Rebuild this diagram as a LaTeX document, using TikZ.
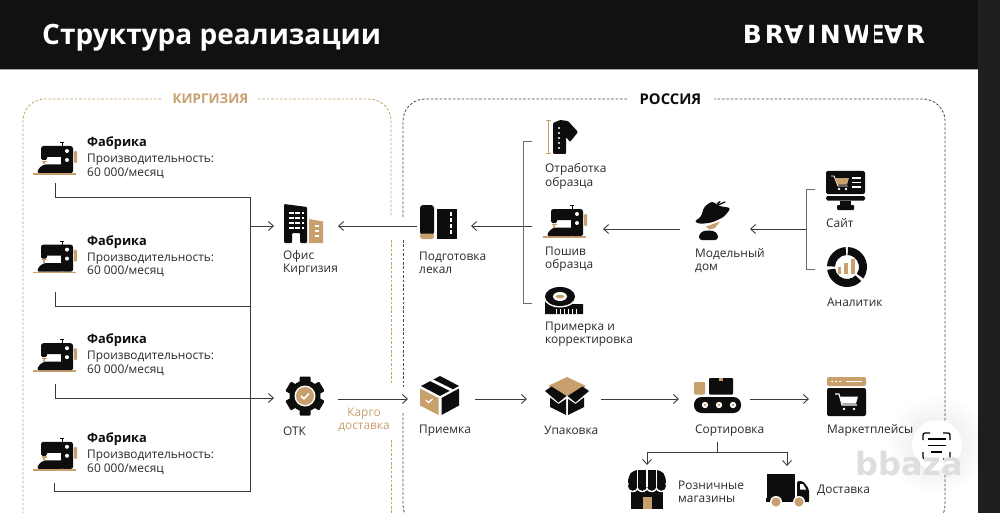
\documentclass[tikz,border=0pt]{standalone}
\usepackage{fontspec}
\usepackage{graphicx}
\setmainfont{Open Sans}
\newfontfamily\wmfont{DejaVu Sans}
\usetikzlibrary{arrows.meta}
\definecolor{tan}{HTML}{C8A06E}
\definecolor{ink}{HTML}{0D0D0D}
\definecolor{hdr}{HTML}{111111}
\definecolor{lineink}{HTML}{3A3A3A}
\definecolor{txt}{HTML}{2A2A2A}
\tikzset{
  lbl/.style={anchor=west,inner sep=0pt,align=left,text=txt,yshift=-0.8pt,font=\fontsize{11.9}{13.6}\selectfont},
  lblb/.style={anchor=west,inner sep=0pt,text=ink,yshift=-1.2pt,font=\fontsize{12.8}{14}\selectfont\bfseries},
  conn/.style={draw=lineink,line width=0.9pt},
  arr/.style={conn,-{Straight Barb[length=5pt,width=9pt,line width=0.9pt]}},
  brk/.style={draw=gray!85!black,line width=0.9pt},
  blk/.style={fill=ink,draw=none},
  tn/.style={fill=tan,draw=none},
  wh/.style={fill=white,draw=none},
  machine/.pic={
    \fill[tn] (0,31.2) rectangle (43,32.8);
    \fill[tn,rounded corners=1pt] (41,9) rectangle (44,21);
    \draw[ink,line width=1pt] (29,1) -- (29,4) (27,0.6) -- (31,0.6);
    \fill[blk,rounded corners=2.5pt] (8,4) rectangle (40,15);
    \fill[blk,rounded corners=1.5pt] (8,10) rectangle (14,18);
    \fill[blk,rounded corners=2pt] (28,8) rectangle (40,31);
    \fill[blk,rounded corners=1.5pt] (4,31) -- (6,26) -- (11,22.5) -- (30,22.5) -- (30,31) -- cycle;
    \fill[wh] (34,9) circle[radius=2];
    \fill[wh] (34,18) circle[radius=2];
    \fill[tn] (8.5,18.6) rectangle (13.5,19.8);
    \fill[tn] (10.3,19) rectangle (11.7,22.5);
  },
  office/.pic={
    \fill[blk,rounded corners=1pt] (0,0) -- (23,3) -- (23,39) -- (16,39) -- (16,29) -- (8,29) -- (8,39) -- (0,39) -- cycle;
    \foreach \yy in {8,13,18,23}{\fill[wh] (5,\yy) rectangle (9.6,\yy+2.2);\fill[wh] (11.4,\yy) rectangle (16,\yy+2.2);\fill[wh] (17.6,\yy) rectangle (20,\yy+2.2);}
    \fill[tn] (25,15) -- (39,17.5) -- (39,39) -- (25,39) -- cycle;
    \foreach \yy in {21,26,31}{\fill[wh] (31,\yy) rectangle (35,\yy+2.4);}
  },
  gear/.pic={
    \fill[blk] (0,0) circle[radius=15.5];
    \foreach \a in {30,90,150,210,270,330}{\fill[blk,rotate=\a,rounded corners=1pt] (13,-5.5) rectangle (19.5,5.5);}
    \fill[wh] (0,0) circle[radius=10.5];
    \fill[tn] (0,0) circle[radius=9];
    \draw[white,line width=1.6pt] (-4,0) -- (-1,2.8) -- (4,-2.5);
  },
  lekal/.pic={
    \fill[blk,rounded corners=3pt] (0,0) rectangle (14,30);
    \fill[tn,rounded corners=2.5pt] (0,28.5) rectangle (14,34);
    \fill[blk] (17,4) rectangle (37,34);
    \foreach \yy in {7,13,19,25}{\fill[wh] (30.2,\yy) rectangle (32.2,\yy+3.5);}
  },
  shirt/.pic={
    \fill[tn] (1.5,0) rectangle (3.2,34);
    \fill[tn] (0,0) rectangle (5,1.4);
    \fill[tn] (0,32.6) rectangle (5,34);
    \fill[blk,rounded corners=1pt] (7,3) -- (14,0) -- (22,1) -- (32,12) -- (24,22) -- (20,17) -- (20,34) -- (7,34) -- cycle;
    \foreach \yy in {8,13,18,23,28}{\fill[wh] (13,\yy) circle[radius=1.1];}
  },
  tape/.pic={
    \fill[blk] (0,14) -- (0,27) -- (38,27) -- (38,17) -- (28,17) -- cycle;
    \fill[wh] (15,9.5) ellipse[x radius=16.5,y radius=11];
    \fill[blk] (15,9.5) ellipse[x radius=15,y radius=9.5];
    \fill[wh] (15,9.5) ellipse[x radius=7,y radius=4.5];
    \fill[tn] (15,9.5) ellipse[x radius=4,y radius=2];
    \foreach \xx in {11,15,19,23,27,31}{\fill[wh] (\xx,22) rectangle (\xx+1.4,27);}
  },
  lady/.pic={
    \fill[blk,rounded corners=3pt] (0,20.5) -- (7,16) -- (10,6) -- (18,0) -- (25,5) -- (37,7) -- (30,16) -- (18,21.5) -- (6,23) -- cycle;
    \draw[ink,line width=1.3pt,line cap=round] (24,4) -- (31,1) (23,3) -- (26,0.5);
    \fill[tn] (12,25.5) -- (26,20.5) -- (21,27) -- (15,28.5) -- cycle;
    \fill[blk,rounded corners=3pt] (5,39) -- (5,33) -- (10,29.5) -- (19,29.5) -- (24,33) -- (24,39) -- cycle;
  },
  monitor/.pic={
    \fill[blk,rounded corners=2pt] (0,0) rectangle (39,23);
    \fill[blk,rounded corners=1.5pt] (0,25) rectangle (39,29.5);
    \fill[blk] (14,30) rectangle (25,34);
    \fill[blk,rounded corners=1pt] (11,34) rectangle (28,39);
    \draw[white,line width=0.9pt] (5,5) -- (8,5) -- (12,15) -- (22,15);
    \fill[tn] (9,7) -- (23,7) -- (21,13.5) -- (11.5,13.5) -- cycle;
    \fill[wh] (13,18) circle[radius=1.4];
    \fill[wh] (20,18) circle[radius=1.4];
    \foreach \yy in {6,10.5,15}{\fill[wh] (26,\yy) rectangle (35,\yy+1.6);}
  },
  donut/.pic={
    \foreach \s/\e in {-87/35,45/172,182/266}{
      \fill[blk] (\s:20) arc[start angle=\s,end angle=\e,radius=20] -- (\e:12) arc[start angle=\e,end angle=\s,radius=12] -- cycle;}
    \fill[tn] (-9,0) rectangle (-6,7);
    \fill[tn] (-3,-4) rectangle (1,7);
    \fill[tn] (3.5,-8) rectangle (8,7);
  },
  boxin/.pic={
    \fill[blk] (20,0) -- (39,10) -- (20,20) -- (1,10) -- cycle;
    \fill[wh] (10,5) -- (13,3.4) -- (33,13.4) -- (30,15) -- cycle;
    \fill[tn] (0,12.5) -- (18.5,22) -- (18.5,39) -- (0,29.5) -- cycle;
    \fill[blk] (21.5,22) -- (39,12.5) -- (39,29.5) -- (21.5,39) -- cycle;
    \draw[white,line width=1.3pt] (6,24) -- (8.5,26.5) -- (12.5,23);
  },
  boxopen/.pic={
    \fill[tn] (22,1) -- (41,10) -- (22,20) -- (3,10) -- cycle;
    \fill[blk] (0,15) -- (6.5,10.5) -- (21.5,20) -- (13.5,26.5) -- cycle;
    \fill[blk] (44,15) -- (37.5,10.5) -- (22.5,20) -- (30.5,26.5) -- cycle;
    \fill[blk] (5,21.5) -- (13.5,28) -- (21,23) -- (21,39) -- (5,31) -- cycle;
    \fill[blk] (39,21.5) -- (30.5,28) -- (23,23) -- (23,39) -- (39,31) -- cycle;
  },
  sorter/.pic={
    \fill[tn,rounded corners=1pt] (0,4) rectangle (11,16.5);
    \fill[blk,rounded corners=1pt] (15,0) rectangle (39,16.5);
    \fill[tn] (24.5,0) rectangle (28.5,3);
    \fill[blk,rounded corners=7.5pt] (0,19) rectangle (47,35);
    \foreach \xx in {11,25,39}{\fill[wh] (\xx,27) circle[radius=3.2];\fill[tn] (\xx,27) circle[radius=1.4];}
  },
  market/.pic={
    \fill[tn,rounded corners=2pt] (0,0) rectangle (39,9);
    \foreach \xx in {5,9,13}{\fill[wh] (\xx,4.5) circle[radius=1];}
    \fill[wh] (19,3.8) rectangle (35,5.2);
    \fill[blk,rounded corners=2pt] (0,11) rectangle (39,39);
    \draw[white,line width=1.1pt] (8,17) -- (12,17) -- (15,28) -- (30,28);
    \fill[wh] (13,19.5) -- (31,19.5) -- (29,26.5) -- (15,26.5) -- cycle;
    \fill[wh] (17,32) circle[radius=1.3];
    \fill[wh] (27,32) circle[radius=1.3];
  },
  store/.pic={
    \fill[blk] (3,18) rectangle (35,38.5);
    \fill[tn] (15,27) rectangle (24,38.5);
    \foreach \xx in {4.75,14.25,23.75,33.25}{\fill[wh] (\xx,16) circle[radius=6.2];}
    \fill[blk,rounded corners=5pt] (0,17) -- (0,7) -- (5,0) -- (33,0) -- (38,7) -- (38,17) -- cycle;
    \foreach \xx in {4.75,14.25,23.75,33.25}{\fill[blk] (\xx,16) circle[radius=4.75];}
    \foreach \xx in {9.5,19,28.5}{\fill[wh] (\xx-0.6,0) rectangle (\xx+0.6,17);}
  },
  truck/.pic={
    \fill[blk] (1,0) rectangle (29,24);
    \fill[blk,rounded corners=2pt] (31,7) -- (37,7) -- (43,15) -- (43,28) -- (31,28) -- cycle;
    \fill[wh] (34,10) -- (37,10) -- (40.2,15.5) -- (34,15.5) -- cycle;
    \fill[blk] (0,24) rectangle (43,28);
    \fill[wh] (10,28) circle[radius=6];
    \fill[wh] (33,28) circle[radius=6];
    \fill[tn] (10,28) circle[radius=4.6];
    \fill[tn] (33,28) circle[radius=4.6];
  },
}
\newcommand{\invA}{\rotatebox[origin=c]{180}{A}}
\begin{document}
\begin{tikzpicture}[x=1pt,y=-1pt]
\useasboundingbox (0,0) rectangle (1000,513);
\clip (0,0) rectangle (1000,513);
\fill[white] (0,0) rectangle (1000,513);
\fill[hdr] (0,0) rectangle (978,69);
\fill[gray!70] (0,69) rectangle (978,70);
\fill[black!88] (978,0) rectangle (1000,513);

\node[anchor=west,inner sep=0pt,text=white,font=\fontsize{28}{32}\selectfont\bfseries] (title) at (42,38) {Структура реализации};
\node[anchor=center,inner sep=0pt,text=white,font=\wmfont\fontsize{25}{30}\selectfont\bfseries] (logo) at (834,34) {B\hspace{3pt}R\hspace{0pt}\invA\hspace{3.5pt}I\hspace{3.5pt}N\hspace{2.5pt}W\hspace{-3pt}E\llap{\textcolor{hdr}{\rule[-1pt]{6pt}{22pt}}\hspace{10.5pt}}\hspace{-1pt}\invA\hspace{2.5pt}R};

% frames
\draw[tan,line width=0.8pt,dash pattern=on 2.6pt off 1.8pt,rounded corners=22pt] (161,99) -- (23,99) -- (23,540);
\draw[tan,line width=0.8pt,dash pattern=on 2.6pt off 1.8pt,rounded corners=22pt] (258,99) -- (391,99) -- (391,215);
\draw[tan,line width=0.8pt,dash pattern=on 2.6pt off 1.8pt] (391,240) -- (391,385) (391,440) -- (391,530);
\draw[black!70,line width=0.8pt,dash pattern=on 2.6pt off 1.8pt,rounded corners=22pt] (627,99) -- (403,99) -- (403,217);
\draw[black!70,line width=0.8pt,dash pattern=on 2.6pt off 1.8pt] (403,240) -- (403,387);
\draw[black!70,line width=0.8pt,dash pattern=on 2.6pt off 1.8pt,rounded corners=22pt] (403,413) -- (403,527) -- (945,527) -- (945,99) -- (714,99);
\node[inner sep=0pt,text=tan,font=\fontsize{13.4}{14}\selectfont\bfseries] (kg) at (210.5,99) {КИРГИЗИЯ};
\node[inner sep=0pt,text=ink,font=\fontsize{14.8}{15}\selectfont\bfseries] (ru) at (670.5,99) {РОССИЯ};

% factories
\foreach \nn/\dy in {1/0,2/98.6,3/197.2,4/295.8}{
  \pic at (33,142+\dy) {machine};
  \node[lblb] (fab\nn) at (87,142+\dy) {Фабрика};
  \node[lbl] (cap\nn) at (87,165.5+\dy) {Производительность:\\60 000/месяц};
}
% icons
\pic at (284,204) {office};
\pic at (305,396) {gear};
\pic at (420,205) {lekal};
\pic at (543,205) {machine};
\pic at (546,120) {shirt};
\pic at (545,287) {tape};
\pic at (694,201) {lady};
\pic at (826,171) {monitor};
\pic at (847,267) {donut};
\pic at (420,376) {boxin};
\pic at (545,376) {boxopen};
\pic at (694,378) {sorter};
\pic at (827,377) {market};
\pic at (628,470) {store};
\pic at (766,474) {truck};

% labels
\node[lbl] (lof) at (283,262) {Офис\\Киргизия};
\node[lbl] (lotk) at (283,430) {ОТК};
\node[lbl,align=center,anchor=center,text=tan] (lcargo) at (364,419) {Карго\\доставка};
\node[lbl] (lpod) at (419,262) {Подготовка\\лекал};
\node[lbl] (lotr) at (545,175.5) {Отработка\\образца};
\node[lbl] (lpos) at (545,258.5) {Пошив\\образца};
\node[lbl] (lpri) at (545,333.5) {Примерка и\\корректировка};
\node[lbl] (lmod) at (695,260) {Модельный\\дом};
\node[lbl] (lsite) at (826,222) {Сайт};
\node[lbl] (lan) at (827,301) {Аналитик};
\node[lbl] (lprm) at (419,430) {Приемка};
\node[lbl] (lupa) at (544,430) {Упаковка};
\node[lbl] (lsor) at (695,430) {Сортировка};
\node[lbl] (lmar) at (827,430) {Маркетплейсы};
\node[lbl] (lroz) at (678,491) {Розничные\\магазины};
\node[lbl] (ldos) at (817,490) {Доставка};

% connector ends
\coordinate (f1o) at (55,183);
\coordinate (f2o) at (55,292);
\coordinate (f3o) at (55,384);
\coordinate (f4o) at (54,483);
\coordinate (busT) at (250,197);
\coordinate (busB) at (250,491);
\coordinate (ofIn) at (274,226);
\coordinate (otkIn) at (274,398);
\coordinate (ofInR) at (338,226);
\coordinate (podL) at (417,226);
\coordinate (podIn) at (471,226);
\coordinate (brA) at (532,141);
\coordinate (brB) at (532,226);
\coordinate (brC) at (532,303);
\coordinate (posIn) at (603,229);
\coordinate (modL) at (680,229);
\coordinate (modIn) at (750,229);
\coordinate (sbA) at (815,189);
\coordinate (sbB) at (815,269);
\coordinate (sbM) at (806,229);
\coordinate (otkO) at (338,399);
\coordinate (prmI) at (408,399);
\coordinate (prmO) at (475,399);
\coordinate (upaI) at (527,399);
\coordinate (upaO) at (601,399);
\coordinate (sorI) at (679,399);
\coordinate (sorO) at (750,399);
\coordinate (marI) at (809,399);
\coordinate (sorD) at (717,442);
\coordinate (sorJ) at (717,452);
\coordinate (rozI) at (647,465);
\coordinate (dosI) at (787,466);

\draw[conn] (f1o) |- (busT) -- (busB) -| (f4o);
\draw[conn] (f2o) |- (250,306);
\draw[arr] (f3o) |- (otkIn);
\draw[arr] (250,226) -- (ofIn);
\draw[arr] (podL) -- (ofInR);
\draw[arr] (brB) -- (podIn);
\draw[brk] (brA) -| (523,303) -- (brC);
\draw[arr] (modL) -- (posIn);
\draw[brk] (sbA) -| (sbM) |- (sbB);
\draw[arr] (sbM) -- (modIn);
\draw[arr] (otkO) -- (prmI);
\draw[arr] (prmO) -- (upaI);
\draw[arr] (upaO) -- (sorI);
\draw[arr] (sorO) -- (marI);
\draw[conn] (sorD) -- (sorJ);
\draw[arr] (sorJ) -| (rozI);
\draw[arr] (sorJ) -| (dosI);

% scan button overlay and watermark
\foreach \rr in {50,48,...,26}{\fill[black,opacity=0.005] (937,445) circle[radius=\rr];}
\fill[white] (937,445) circle[radius=25];
\draw[black,line width=1.3pt,rounded corners=2pt] (923,440) -- (923,433) -- (930,433) (943,433) -- (950,433) -- (950,440) (950,452) -- (950,459) -- (943,459) (930,459) -- (923,459) -- (923,452);
\draw[black,line width=1.3pt] (927.5,439) -- (945.5,439) (927.5,445.5) -- (945.5,445.5) (931,452) -- (942,452);
\node[inner sep=0pt,text=black!13,font=\wmfont\fontsize{32}{34}\selectfont\bfseries] (wm) at (909,464) {bbaza};
\end{tikzpicture}
\end{document}
